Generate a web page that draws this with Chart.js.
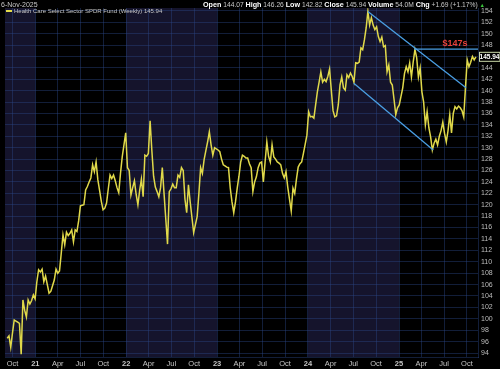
<!DOCTYPE html>
<html>
<head>
<meta charset="utf-8">
<script src="https://cdn.jsdelivr.net/npm/chart.js@4.4.0/dist/chart.umd.min.js"></script>
<style>
  html, body { margin: 0; padding: 0; background: #000; }
  #wrap { position: relative; width: 500px; height: 369px; overflow: hidden; }
  canvas { position: absolute; left: 0; top: 0; }
  .hdr { position: absolute; font-family: Arial, "Liberation Sans", sans-serif; font-size: 6.7px;
         color: #c8c8c8; white-space: nowrap; line-height: 1; }
  .hdr b { color: #fff; font-size: 7.2px; }
  .sw { display: inline-block; width: 6px; height: 2px; background: #e3dc4a; vertical-align: middle; margin-right: 2px; }
  .up { color: #39c43a; font-size: 5.5px; }
</style>
</head>
<body>
<div id="wrap">
  <canvas id="chart" width="500" height="369"></canvas>
  <div class="hdr" style="left:1px;top:1px;font-size:7px;">6-Nov-2025</div>
  <div class="hdr" style="right:15px;top:1px;"><b>Open</b> 144.07 <b>High</b> 146.26 <b>Low</b> 142.82 <b>Close</b> 145.94 <b>Volume</b> 54.0M <b>Chg</b> +1.69 (+1.17%) <span class="up">&#9650;</span></div>
  <div class="hdr" style="left:6px;top:8px;font-size:6px;"><span class="sw"></span>Health Care Select Sector SPDR Fund (Weekly) 145.94</div>
</div>
<script>
// weekly closes, first week ending 10-Sep-2020, last one 6-Nov-2025
const startDate = Date.UTC(2020, 8, 10);
const closes = [
  96.6, 97.0, 95.0, 97.5, 99.8, 99.6, 99.4, 99.2, 93.8, 103.3,
  101.5, 100.3, 103.3, 102.6, 103.2, 104.2, 103.5, 106.5, 108.6, 108.2,
  108.7, 106.5, 107.5, 106.0, 104.5, 104.8, 105.8, 106.8, 108.7, 108.0,
  108.4, 111.5, 114.7, 113.0, 115.2, 114.6, 115.0, 115.6, 113.5, 115.6,
  115.3, 117.2, 119.8, 119.9, 120.0, 122.6, 123.2, 124.0, 124.7, 127.0,
  125.8, 127.5, 124.4, 122.5, 120.6, 119.1, 119.4, 120.3, 122.8, 125.2,
  124.6, 125.2, 124.2, 123.0, 122.1, 125.5, 128.4, 130.5, 132.6, 126.5,
  126.0, 121.7, 123.0, 124.2, 121.8, 120.0, 122.5, 124.5, 121.4, 128.7,
  128.5, 129.0, 134.7, 129.5, 125.0, 123.1, 122.3, 121.4, 123.0, 126.5,
  122.0, 117.5, 113.1, 122.3, 122.8, 123.6, 123.0, 123.0, 125.2, 124.8,
  126.5, 126.0, 121.0, 118.6, 123.5, 120.5, 117.8, 115.1, 116.5, 117.9,
  122.0, 126.5, 125.5, 127.9, 129.5, 131.0, 132.8, 130.5, 128.7, 130.0,
  129.8, 129.6, 129.3, 128.0, 127.0, 126.8, 126.6, 126.5, 122.9, 120.5,
  118.6, 120.5, 122.9, 125.0, 127.5, 128.7, 128.5, 128.2, 128.2, 127.2,
  126.5, 122.3, 124.0, 124.9, 126.5, 127.3, 127.5, 124.0, 127.5, 131.0,
  128.5, 127.5, 130.5, 128.4, 128.0, 127.5, 127.3, 127.0, 125.5, 124.7,
  125.8, 123.1, 121.0, 118.9, 122.9, 122.0, 124.5, 126.6, 127.2, 127.5,
  129.0, 130.6, 132.2, 136.3, 135.4, 135.5, 135.2, 137.5, 139.8, 141.5,
  143.3, 141.5, 142.0, 141.6, 142.5, 143.8, 140.1, 136.5, 135.4, 135.6,
  137.5, 141.0, 142.4, 140.5, 140.1, 142.8, 142.3, 143.1, 142.5, 141.5,
  144.9, 144.8, 145.0, 147.5, 147.2, 148.9, 151.0, 153.9, 151.5, 152.8,
  151.5, 150.7, 151.2, 149.5, 148.6, 149.4, 147.7, 147.9, 143.3, 144.5,
  141.5, 141.0, 138.5, 135.8, 137.0, 137.5, 139.0, 140.5, 143.0, 144.2,
  143.3, 144.9, 142.4, 145.0, 147.2, 145.8, 142.4, 144.0, 139.8, 138.0,
  134.0, 136.3, 133.5, 131.9, 129.6, 130.8, 131.5, 130.5, 132.0, 133.0,
  134.5, 132.5, 131.0, 133.0, 135.8, 132.6, 136.0, 137.2, 136.8, 137.3,
  137.0, 136.5, 135.4, 140.5, 145.4, 144.2, 145.0, 146.0, 145.4, 145.94
];
const lastPrice = 145.94;

// drawn trend lines, [week index, price]
const upperTrend = [[207, 153.9], [263.3, 140.5]];
const lowerTrend = [[198.9, 141.3], [244.5, 129.6]];
const resistance = [[233.6, 147.3], [270.2, 147.3]];
const resistanceLabel = '$147s';

const monthNames = ['Jan', 'Feb', 'Mar', 'Apr', 'May', 'Jun', 'Jul', 'Aug', 'Sep', 'Oct', 'Nov', 'Dec'];
const shadedYears = [2020, 2022, 2024];
const yTicks = [];
for (let v = 94; v <= 154; v += 2) yTicks.push(v);

const WEEK = 7 * 864e5;
function weekOf(y, m, d) { return (Date.UTC(y, m, d) - startDate) / WEEK; }

const quarterTicks = [];
for (let y = 2020; y <= 2025; y++) {
  for (const m of [0, 3, 6, 9]) {
    if (y === 2020 && m < 9) continue;
    quarterTicks.push({ value: weekOf(y, m, 1), label: m === 0 ? String(y).slice(2) : monthNames[m], year: m === 0 });
  }
}

const gridColor = 'rgba(42, 72, 135, 0.42)';

const bgPlugin = {
  id: 'bg',
  beforeDraw(chart) {
    const { ctx, chartArea: a, scales: { x } } = chart;
    ctx.save();
    ctx.fillStyle = '#000';
    ctx.fillRect(0, 0, chart.width, chart.height);
    ctx.fillStyle = '#15142c';
    shadedYears.forEach(y => {
      const x1 = Math.max(a.left, x.getPixelForValue(weekOf(y, 0, 1)));
      const x2 = Math.min(a.right, x.getPixelForValue(weekOf(y + 1, 0, 1)));
      if (x2 > x1) ctx.fillRect(x1, a.top, x2 - x1, a.bottom - a.top);
    });
    ctx.restore();
  },
  afterDraw(chart) {
    const { ctx, chartArea: a, scales: { x, y } } = chart;
    ctx.save();
    // resistance label
    ctx.fillStyle = '#e8413a';
    ctx.font = 'bold 9px Arial, "Liberation Sans", sans-serif';
    ctx.textAlign = 'center';
    ctx.textBaseline = 'bottom';
    ctx.fillText(resistanceLabel, 455, y.getPixelForValue(resistance[0][1]) - 1);
    // last price box
    const py = y.getPixelForValue(lastPrice);
    ctx.fillStyle = '#000';
    ctx.fillRect(a.right + 1, py - 5, 21, 10);
    ctx.strokeStyle = '#c9d8a8';
    ctx.lineWidth = 1;
    ctx.strokeRect(a.right + 1.5, py - 4.5, 20.5, 9);
    ctx.fillStyle = '#fff';
    ctx.font = 'bold 6.5px Arial, "Liberation Sans", sans-serif';
    ctx.textAlign = 'center';
    ctx.textBaseline = 'middle';
    ctx.fillText(lastPrice.toFixed(2), a.right + 11.5, py + 0.5);
    ctx.restore();
  }
};

const toPts = arr => arr.map(p => ({ x: p[0], y: p[1] }));
const trendStyle = { type: 'line', borderColor: '#4a9fe3', borderWidth: 1.3, pointRadius: 0, fill: false, tension: 0 };

new Chart(document.getElementById('chart'), {
  type: 'line',
  data: {
    datasets: [
      { ...trendStyle, data: toPts(upperTrend) },
      { ...trendStyle, data: toPts(lowerTrend) },
      { ...trendStyle, data: toPts(resistance) },
      {
        label: 'XLV',
        data: closes.map((v, i) => ({ x: i, y: v })),
        borderColor: '#e0d94a',
        borderWidth: 1.5,
        pointRadius: 0,
        tension: 0
      }
    ]
  },
  options: {
    responsive: false,
    animation: false,
    devicePixelRatio: 1,
    layout: { padding: { top: 8, left: 5, right: 0, bottom: 0 } },
    plugins: { legend: { display: false }, tooltip: { enabled: false } },
    scales: {
      x: {
        type: 'linear',
        min: weekOf(2020, 8, 1),
        max: 270.2,
        afterBuildTicks(scale) { scale.ticks = quarterTicks.map(t => ({ value: t.value })); },
        afterFit(scale) { scale.height = 12; },
        grid: { color: gridColor, lineWidth: 1, drawTicks: false },
        border: { color: gridColor },
        ticks: {
          autoSkip: false,
          maxRotation: 0,
          padding: 2,
          color: '#c4c4c4',
          font(ctx) {
            const t = quarterTicks[ctx.index];
            return { family: 'Arial, "Liberation Sans", sans-serif', size: 7.5, weight: t && t.year ? 'bold' : 'normal' };
          },
          callback(value, index) { return quarterTicks[index] ? quarterTicks[index].label : ''; }
        }
      },
      y: {
        position: 'right',
        min: 93.3,
        max: 154.5,
        afterBuildTicks(scale) { scale.ticks = yTicks.map(v => ({ value: v })); },
        afterFit(scale) { scale.width = 22; },
        grid: { color: gridColor, lineWidth: 1, drawTicks: false },
        border: { color: gridColor },
        ticks: {
          padding: 3,
          color: '#bdbdbd',
          font: { family: 'Arial, "Liberation Sans", sans-serif', size: 7 },
          callback(value) { return value; }
        }
      }
    }
  },
  plugins: [bgPlugin]
});
</script>
</body>
</html>
